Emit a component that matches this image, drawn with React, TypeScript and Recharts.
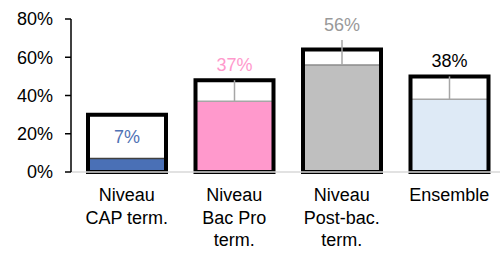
import React from "react";
import { ComposedChart, Bar, XAxis, YAxis, Cell, ErrorBar, LabelList } from "recharts";

const categories = ["Niveau\nCAP term.", "Niveau\nBac Pro\nterm.", "Niveau\nPost-bac.\nterm.", "Ensemble"];
const filledValues = [0.07, 0.37, 0.56, 0.38];
const outlineValues = [0.3, 0.48, 0.64, 0.5];
const leaderValues = [0, 0.11, 0.13, 0.12];
const yTicks = [0, 0.2, 0.4, 0.6, 0.8];

const fillColors = ["#4a70b6", "#ff99cc", "#bfbfbf", "#deeaf6"];
const edgeColors = ["#404040", "#a6a6a6", "#8c8c8c", "#a6a6a6"];
const labelColors = ["#4f72b4", "#ff99cc", "#999999", "#000000"];

const data = categories.map((name, i) => ({
  name,
  value: filledValues[i],
  outline: outlineValues[i],
  lead: [0, leaderValues[i]],
}));

const FONT = "'Liberation Sans', Arial, sans-serif";

const CategoryTick = (props: any) => {
  const { x, y, payload } = props;
  const lines = String(payload.value).split("\n");
  return (
    <text x={x} y={y} textAnchor="middle" fontSize={18} fontFamily={FONT} fill="#000">
      {lines.map((l, i) => (
        <tspan key={i} x={x} dy={i === 0 ? 21 : 22.5}>
          {l}
        </tspan>
      ))}
    </text>
  );
};

const ValueLabel = (props: any) => {
  const { x, y, width, height, value, index } = props;
  if (typeof value !== "number") return null;
  const scale = height / value;
  const bottom = y + height;
  const outlineTop = bottom - outlineValues[index] * scale;
  const leaderTop = y - leaderValues[index] * scale;
  let ty: number;
  if (leaderValues[index] === 0) {
    ty = (y + outlineTop) / 2 + 6;
  } else {
    ty = Math.min(outlineTop, leaderTop) - 9;
  }
  return (
    <text x={x + width / 2} y={ty} textAnchor="middle" fontSize={18} fontFamily={FONT} fill={labelColors[index]}>
      {Math.round(value * 100) + "%"}
    </text>
  );
};

export default function App() {
  return (
    <div style={{ position: "absolute", left: 0, top: 0, background: "#fff" }}>
      <ComposedChart
        width={500}
        height={259}
        data={data}
        margin={{ top: 19, right: -3, left: 0, bottom: 0 }}
        barGap={-78}
      >
        <XAxis
          dataKey="name"
          interval={0}
          tickLine={false}
          axisLine={{ stroke: "#d9d9d9", strokeWidth: 1.5 }}
          tick={<CategoryTick />}
          height={87}
          padding={{ left: 2, right: 0 }}
        />
        <YAxis
          width={71}
          domain={[0, 0.8]}
          ticks={yTicks}
          tickFormatter={(v: number) => Math.round(v * 100) + "%"}
          axisLine={{ stroke: "#000", strokeWidth: 1.5 }}
          tickLine={{ stroke: "#000", strokeWidth: 1.5 }}
          tickSize={6}
          tickMargin={12}
          tick={{ fill: "#000", fontSize: 18, fontFamily: FONT }}
        />
        <Bar dataKey="value" barSize={78} isAnimationActive={false}>
          {data.map((_, i) => (
            <Cell key={i} fill={fillColors[i]} stroke={edgeColors[i]} strokeWidth={1.5} />
          ))}
          <ErrorBar dataKey="lead" width={0} stroke="#a6a6a6" strokeWidth={1.5} isAnimationActive={false} />
          <LabelList dataKey="value" content={<ValueLabel />} />
        </Bar>
        <Bar dataKey="outline" barSize={78} fill="none" stroke="#000" strokeWidth={4} isAnimationActive={false} />
      </ComposedChart>
    </div>
  );
}
